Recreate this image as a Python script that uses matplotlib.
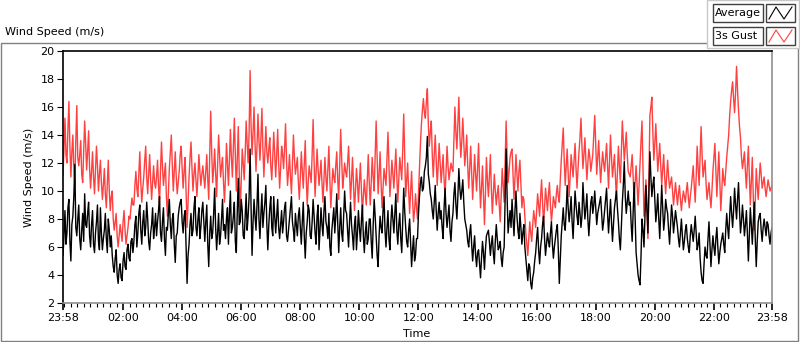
import numpy as np
import matplotlib
matplotlib.use("Agg")
import matplotlib.pyplot as plt
from matplotlib.lines import Line2D
from matplotlib.patches import Rectangle

# ================= Data ================= #
# one sample every 2 minutes, starting 23:58 (each row = 48 minutes)
sample_step_min = 2

average = [
    5.4, 6.8, 8.6, 6.2, 7.0, 8.8, 9.4, 6.4, 5.0, 7.6, 8.2, 9.6, 11.9, 7.4, 6.8, 8.0, 9.0, 6.6, 5.8, 7.2, 8.4, 6.4, 9.8, 7.6,
    7.4, 8.4, 9.2, 6.8, 6.0, 7.6, 8.6, 6.2, 5.6, 7.0, 7.8, 9.0, 6.4, 5.8, 8.8, 7.0, 5.8, 6.6, 7.2, 8.4, 6.6, 5.6, 8.0, 7.2,
    6.0, 6.8, 5.4, 4.6, 4.2, 5.2, 5.8, 4.0, 3.4, 4.4, 4.8, 3.8, 3.6, 5.0, 5.6, 4.6, 4.4, 5.8, 6.2, 5.2, 5.0, 6.4, 6.6, 5.6,
    6.4, 7.6, 8.2, 6.0, 7.0, 8.4, 9.0, 7.2, 6.2, 7.8, 8.6, 6.8, 7.4, 9.2, 8.0, 6.4, 5.8, 7.0, 7.6, 8.8, 6.6, 7.4, 8.4, 6.8,
    7.8, 8.6, 9.6, 7.0, 6.4, 7.8, 8.8, 6.6, 5.4, 7.4, 7.2, 8.4, 9.4, 7.6, 6.6, 8.0, 8.4, 6.2, 4.9, 6.8, 7.0, 8.2, 8.8, 9.2,
    9.4, 7.8, 7.0, 8.2, 8.6, 6.0, 3.4, 5.4, 6.2, 7.6, 8.4, 6.8, 7.2, 8.8, 9.6, 7.4, 6.8, 8.0, 8.8, 6.6, 7.4, 8.6, 9.2, 7.8,
    6.4, 7.8, 9.0, 6.2, 4.6, 7.0, 8.2, 6.6, 7.0, 8.4, 10.2, 7.4, 5.8, 7.0, 8.4, 6.2, 6.8, 8.0, 9.4, 7.2, 7.6, 6.6, 8.0, 8.8,
    6.2, 8.4, 10.0, 7.0, 7.4, 8.2, 9.2, 6.4, 5.6, 8.6, 10.9, 7.6, 7.8, 9.4, 8.6, 6.8, 6.6, 8.2, 9.8, 7.2, 8.2, 9.6, 13.0, 8.8,
    5.4, 7.8, 9.4, 8.2, 7.2, 9.0, 11.2, 8.0, 6.6, 8.4, 9.8, 7.4, 8.4, 9.2, 10.4, 7.6, 5.8, 7.6, 8.8, 9.6, 7.4, 6.8, 9.6, 8.2,
    7.0, 8.2, 9.4, 7.4, 6.6, 7.6, 8.6, 7.0, 7.8, 8.8, 9.2, 6.8, 6.4, 7.2, 8.0, 8.8, 9.6, 7.8, 7.2, 6.4, 8.4, 7.6, 6.8, 8.2,
    8.8, 7.4, 6.2, 7.8, 9.2, 6.8, 5.2, 7.0, 7.8, 9.0, 8.6, 6.8, 6.6, 7.8, 9.4, 8.2, 7.0, 6.2, 8.2, 9.0, 5.8, 7.2, 8.8, 7.6,
    6.8, 8.6, 9.6, 7.8, 7.4, 6.6, 8.4, 6.0, 5.4, 7.2, 8.0, 8.8, 7.0, 8.2, 9.8, 7.6, 5.6, 7.4, 8.8, 7.0, 6.4, 8.2, 10.0, 8.6,
    8.4, 7.2, 6.0, 7.8, 9.2, 7.6, 6.8, 5.8, 7.6, 8.2, 5.8, 7.0, 8.6, 7.4, 6.4, 7.8, 9.0, 6.8, 5.6, 7.0, 7.8, 6.2, 6.6, 8.0,
    8.0, 6.4, 5.2, 7.6, 9.4, 8.2, 6.8, 5.4, 4.6, 6.8, 8.2, 7.4, 7.0, 8.6, 9.6, 7.2, 6.0, 7.4, 8.6, 6.6, 5.8, 7.8, 9.0, 8.0,
    7.0, 8.4, 9.8, 7.2, 6.2, 7.6, 8.4, 6.6, 5.6, 8.0, 10.2, 8.6, 7.4, 6.4, 6.0, 7.2, 8.0, 6.2, 4.6, 5.8, 6.8, 5.0, 5.4, 6.6,
    6.6, 8.4, 9.6, 10.6, 11.0, 10.0, 10.2, 11.4, 11.8, 12.4, 13.9, 11.2, 10.6, 9.8, 9.4, 8.6, 8.0, 9.2, 10.4, 8.6, 7.2, 8.4, 9.2, 8.0,
    8.6, 7.4, 6.6, 8.8, 10.2, 8.4, 7.4, 8.2, 9.0, 7.2, 6.4, 7.8, 8.4, 9.8, 10.6, 9.0, 8.0, 9.6, 11.6, 10.2, 9.4, 10.0, 10.8, 9.2,
    8.0, 7.6, 7.2, 6.4, 6.0, 7.0, 7.6, 6.2, 5.0, 6.0, 6.8, 5.4, 4.6, 5.6, 5.8, 4.8, 3.8, 5.2, 6.4, 5.6, 4.4, 5.8, 6.8, 7.0,
    7.2, 6.4, 5.4, 6.2, 6.8, 5.6, 4.8, 6.4, 7.6, 6.6, 5.8, 6.0, 6.4, 5.2, 4.6, 5.6, 6.0, 9.4, 13.0, 9.6, 7.0, 7.8, 8.6, 7.4,
    9.4, 8.0, 6.8, 8.6, 10.0, 8.2, 7.2, 6.6, 8.4, 7.4, 6.2, 7.0, 7.6, 6.0, 5.2, 4.4, 3.6, 4.8, 4.6, 3.4, 3.0, 3.8, 4.2, 5.0,
    5.6, 6.6, 7.4, 5.8, 4.8, 6.0, 6.6, 7.6, 8.2, 6.6, 5.4, 6.2, 7.0, 6.4, 6.0, 7.0, 7.8, 6.2, 5.2, 6.0, 6.6, 7.2, 7.6, 5.8,
    3.4, 5.2, 6.8, 7.8, 8.8, 7.6, 7.2, 8.6, 10.4, 8.8, 7.8, 8.6, 9.6, 7.8, 6.6, 8.4, 10.0, 9.0, 8.2, 7.6, 9.2, 8.4, 7.4, 8.2,
    10.6, 9.2, 8.0, 8.8, 9.8, 8.0, 6.8, 8.0, 9.2, 9.6, 8.4, 9.0, 10.0, 8.8, 7.6, 8.4, 8.8, 9.2, 9.6, 8.4, 7.2, 7.8, 8.6, 9.4,
    10.2, 8.4, 7.0, 8.2, 9.4, 7.8, 6.4, 7.6, 8.8, 9.4, 10.0, 8.8, 7.8, 6.6, 5.8, 7.4, 9.2, 10.4, 12.1, 9.6, 8.4, 9.2, 10.0, 9.0,
    9.2, 7.6, 6.4, 8.6, 10.6, 8.0, 5.6, 4.8, 4.0, 3.6, 3.3, 5.4, 8.0, 7.2, 6.0, 8.2, 10.4, 8.6, 7.0, 9.8, 12.8, 11.0, 9.6, 10.4,
    11.0, 9.4, 7.8, 8.6, 9.8, 8.0, 6.6, 8.4, 10.4, 8.8, 7.2, 8.0, 9.4, 8.8, 8.4, 7.2, 6.2, 7.6, 9.0, 8.2, 7.0, 7.8, 8.6, 8.0,
    7.4, 6.6, 6.0, 7.0, 8.0, 6.8, 5.8, 6.4, 7.2, 7.6, 6.6, 6.0, 5.6, 6.8, 7.6, 7.0, 6.4, 7.2, 8.2, 7.0, 5.8, 6.2, 7.0, 5.2,
    4.2, 3.6, 3.4, 4.8, 6.0, 5.4, 5.2, 6.6, 7.8, 6.2, 4.6, 5.8, 6.8, 6.0, 5.4, 6.6, 7.4, 6.0, 4.8, 5.6, 6.2, 6.6, 7.0, 6.2,
    5.6, 7.2, 8.4, 7.4, 6.6, 8.2, 9.6, 8.4, 7.4, 8.6, 10.2, 9.0, 8.0, 9.4, 10.6, 8.6, 7.0, 7.8, 9.0, 8.0, 6.8, 7.6, 8.6, 7.0,
    5.0, 6.8, 8.8, 7.6, 6.2, 7.8, 9.2, 6.6, 4.6, 6.4, 7.8, 8.2, 8.4, 7.2, 6.4, 7.4, 8.0, 7.4, 6.8, 7.8, 7.6, 6.8, 6.2, 7.0,
    7.4,
]

gust = [
    11.1, 13.0, 15.2, 12.6, 12.0, 14.4, 16.4, 13.2, 11.0, 12.8, 14.0, 11.6, 10.4, 13.6, 16.1, 12.4, 11.8, 12.6, 13.6, 11.2, 10.6, 12.8, 15.0, 13.4,
    11.5, 12.8, 14.3, 11.6, 10.2, 11.4, 12.8, 11.0, 9.8, 11.6, 13.2, 11.8, 10.0, 11.2, 12.2, 10.6, 9.4, 10.4, 11.6, 9.8, 8.8, 10.6, 12.2, 10.0,
    8.6, 9.6, 10.0, 8.0, 7.2, 7.8, 8.4, 6.8, 6.0, 6.8, 7.6, 7.0, 6.4, 7.8, 8.6, 7.2, 6.2, 6.8, 7.4, 8.2, 8.0, 8.8, 9.5, 9.0,
    9.0, 10.4, 11.4, 10.2, 9.6, 11.2, 12.8, 10.6, 9.2, 10.2, 11.0, 12.2, 13.2, 11.0, 9.8, 11.2, 12.6, 10.8, 9.4, 10.6, 11.8, 10.6, 10.2, 11.0,
    12.2, 10.4, 9.0, 11.4, 13.5, 11.8, 10.4, 11.2, 12.0, 9.6, 8.2, 9.8, 11.6, 12.8, 14.0, 11.8, 10.0, 11.4, 12.8, 11.0, 9.8, 10.6, 11.4, 12.6,
    13.2, 11.6, 10.2, 11.4, 12.4, 9.8, 7.4, 9.2, 11.0, 12.4, 13.5, 11.6, 10.0, 11.2, 12.0, 10.8, 9.6, 11.0, 12.6, 11.4, 10.4, 11.2, 11.8, 11.0,
    10.2, 11.4, 12.6, 10.8, 9.4, 12.4, 15.7, 12.8, 10.6, 11.6, 13.0, 11.2, 9.6, 11.8, 14.0, 12.6, 11.0, 11.8, 12.4, 10.6, 9.2, 11.0, 13.4, 12.0,
    10.4, 12.2, 14.4, 12.4, 11.0, 13.0, 15.2, 12.6, 10.0, 12.2, 14.6, 11.2, 8.4, 10.6, 13.0, 12.0, 10.8, 12.6, 15.0, 13.4, 12.0, 14.2, 18.6, 14.6,
    12.6, 14.2, 16.0, 13.4, 11.4, 13.2, 15.5, 13.6, 12.2, 13.8, 15.9, 13.0, 11.0, 12.8, 14.6, 12.8, 12.0, 13.0, 13.8, 11.8, 10.8, 12.4, 14.2, 12.6,
    11.0, 12.6, 14.4, 12.0, 10.2, 11.6, 13.2, 12.6, 11.6, 13.0, 14.8, 12.2, 10.4, 11.4, 12.6, 11.0, 9.8, 11.8, 14.0, 12.4, 11.2, 11.8, 12.4, 10.6,
    9.4, 11.0, 12.8, 11.4, 10.2, 12.0, 13.6, 11.0, 9.0, 10.6, 11.8, 11.2, 10.6, 12.6, 15.1, 12.0, 9.6, 11.4, 13.0, 11.6, 10.4, 11.2, 12.2, 10.6,
    9.2, 10.8, 12.4, 11.0, 10.0, 11.6, 13.2, 10.8, 8.8, 10.2, 11.6, 11.0, 10.6, 11.8, 12.8, 10.8, 9.4, 11.8, 14.4, 12.2, 10.2, 11.0, 12.0, 11.4,
    11.0, 12.0, 13.2, 11.2, 9.4, 10.8, 12.4, 10.4, 8.6, 10.0, 11.6, 10.6, 9.2, 10.6, 12.0, 10.2, 8.4, 9.6, 10.8, 9.8, 9.0, 10.8, 12.6, 10.6,
    9.0, 10.6, 12.4, 11.0, 10.0, 12.6, 15.0, 12.4, 9.8, 11.2, 12.8, 10.6, 8.8, 10.2, 11.6, 11.0, 10.4, 12.2, 14.2, 11.8, 9.6, 10.8, 12.2, 11.2,
    10.2, 11.6, 13.0, 11.0, 9.2, 10.8, 12.4, 11.6, 10.8, 13.0, 15.5, 12.4, 9.6, 10.8, 12.0, 10.0, 8.4, 10.0, 11.4, 9.4, 7.8, 8.6, 9.8, 8.8,
    8.0, 9.8, 11.6, 13.4, 14.8, 15.8, 16.6, 15.6, 15.2, 16.4, 17.3, 14.8, 13.2, 14.2, 15.0, 12.6, 11.0, 12.6, 14.0, 12.2, 10.4, 11.8, 13.4, 12.0,
    10.6, 11.6, 12.6, 10.8, 9.6, 11.4, 13.2, 11.8, 10.8, 11.4, 12.0, 11.6, 11.4, 13.6, 16.0, 14.2, 13.0, 14.8, 16.7, 14.0, 12.4, 13.6, 15.2, 13.4,
    11.8, 12.8, 14.0, 11.8, 10.2, 11.6, 13.2, 11.2, 9.4, 11.0, 12.6, 11.2, 10.0, 11.6, 13.4, 10.8, 8.8, 10.2, 11.8, 9.6, 7.6, 9.8, 12.4, 10.8,
    9.6, 11.0, 12.6, 10.2, 8.4, 9.8, 11.2, 10.0, 9.0, 9.8, 10.4, 9.0, 7.8, 9.6, 11.6, 10.4, 9.2, 12.0, 15.0, 12.4, 10.6, 11.4, 12.4, 12.8,
    13.0, 11.2, 9.4, 11.0, 12.6, 11.2, 10.0, 11.4, 12.2, 10.4, 8.8, 9.6, 9.4, 8.2, 7.0, 6.2, 5.4, 6.6, 7.8, 7.0, 6.4, 7.6, 8.6, 8.0,
    7.4, 8.6, 9.8, 9.0, 8.2, 9.6, 10.8, 9.2, 7.6, 8.8, 10.2, 9.4, 8.6, 9.8, 10.6, 9.0, 7.8, 8.6, 9.6, 9.2, 8.8, 9.8, 10.4, 9.6,
    9.2, 10.8, 12.2, 13.4, 14.5, 12.2, 10.4, 11.8, 13.0, 11.2, 9.6, 11.0, 12.6, 11.8, 11.0, 12.2, 13.4, 11.6, 10.2, 11.6, 12.8, 13.8, 15.2, 13.2,
    11.6, 12.6, 13.8, 12.2, 10.8, 12.0, 13.0, 12.4, 11.4, 12.0, 12.6, 14.0, 15.4, 13.2, 11.2, 12.4, 13.6, 12.0, 10.6, 11.8, 12.8, 12.0, 11.4, 12.4,
    13.4, 11.8, 10.2, 12.0, 14.0, 12.4, 11.0, 11.8, 12.6, 11.0, 9.4, 11.2, 13.2, 11.8, 10.6, 12.8, 15.0, 13.6, 12.2, 13.2, 14.2, 12.6, 11.4, 11.2,
    11.0, 11.8, 12.6, 11.0, 9.4, 10.6, 11.8, 10.4, 9.0, 10.4, 12.0, 13.6, 15.0, 11.4, 8.2, 9.6, 10.8, 8.6, 6.6, 10.8, 15.4, 16.0, 16.7, 14.2,
    12.2, 13.4, 14.8, 13.0, 11.4, 12.4, 13.4, 11.8, 10.4, 11.6, 12.6, 11.0, 9.8, 11.0, 12.2, 11.0, 10.2, 10.6, 11.0, 10.0, 9.0, 9.8, 10.6, 9.8,
    9.0, 9.8, 10.4, 9.4, 8.6, 9.4, 10.0, 9.6, 9.2, 10.0, 10.6, 9.6, 8.8, 9.6, 10.2, 11.0, 11.8, 10.4, 9.2, 11.0, 13.2, 11.6, 10.4, 12.4,
    14.6, 12.6, 11.0, 11.6, 12.2, 10.6, 9.4, 10.0, 10.6, 9.6, 8.8, 10.0, 11.4, 12.4, 13.4, 11.4, 9.6, 11.2, 12.8, 10.6, 8.6, 10.0, 11.6, 10.8,
    10.4, 11.4, 12.4, 13.2, 14.0, 15.4, 16.4, 17.2, 17.8, 16.6, 15.6, 17.0, 18.9, 17.2, 15.8, 14.6, 13.8, 12.4, 11.6, 12.2, 12.8, 11.4, 10.2, 11.8,
    13.2, 11.0, 9.0, 10.8, 12.4, 9.6, 7.2, 9.2, 11.6, 10.4, 9.4, 10.8, 12.0, 11.2, 10.2, 10.6, 11.0, 10.2, 9.6, 10.2, 10.8, 10.4, 10.0, 10.2,
    10.4,
]

tick_minutes = [0, 122, 242, 362, 482, 602, 722, 842, 962, 1082, 1202, 1322, 1440]
tick_labels = ["23:58", "02:00", "04:00", "06:00", "08:00", "10:00", "12:00",
               "14:00", "16:00", "18:00", "20:00", "22:00", "23:58"]
y_ticks = list(range(2, 21, 2))

minutes_avg = np.arange(len(average)) * sample_step_min
minutes_gust = np.arange(len(gust)) * sample_step_min

# ================= Figure ================= #
W, H = 800, 342
fig = plt.figure(figsize=(W / 100, H / 100), dpi=100)
fig.patch.set_facecolor("white")


def px(x, y):
    # pixel coords (top-left origin) -> figure fraction
    return x / W, 1 - y / H


ax = fig.add_axes([63 / W, 1 - 303 / H, (772 - 63) / W, (303 - 51) / H])
ax.plot(minutes_gust, gust, color="#ff4040", lw=1.0)
ax.plot(minutes_avg, average, color="black", lw=1.0)

ax.set_xlim(0, 1440)
ax.set_ylim(2, 20)
ax.set_yticks(y_ticks)
ax.set_xticks(tick_minutes)
ax.set_xticklabels(tick_labels)
ax.set_xticks(np.arange(2, 1440, 40 / 3), minor=True)
ax.tick_params(axis="both", labelsize=8, color="black")
ax.tick_params(axis="x", which="major", length=5, width=1.2, pad=2)
ax.tick_params(axis="x", which="minor", length=3, width=0.8)
ax.tick_params(axis="y", length=4, width=0.8, pad=2)
ax.set_xlabel("Time", fontsize=8)
ax.set_ylabel("Wind Speed (m/s)", fontsize=8, labelpad=5)
ax.xaxis.set_label_coords((403 - 63) / (772 - 63), -0.105)
ax.xaxis.label.set_horizontalalignment("left")

for side in ["top", "left"]:
    ax.spines[side].set_color("black")
    ax.spines[side].set_linewidth(1.2)
for side in ["right", "bottom"]:
    ax.spines[side].set_color("#909090")
    ax.spines[side].set_linewidth(1.2)

# ---- panel frame and title ----
fig.text(*px(5, 32), "Wind Speed (m/s)", fontsize=8, va="center", ha="left")
x0, y0 = px(0.5, 340.5)
x1, y1 = px(797.5, 42.5)
fig.add_artist(Rectangle((x0, y0), x1 - x0, y1 - y0, transform=fig.transFigure,
                         fill=False, edgecolor="#808080", lw=1))

# ---- legend ----
fig.add_artist(Rectangle(px(707, 48), 92 / W, 48 / H, transform=fig.transFigure,
                         facecolor="white", edgecolor="#c8c8c8", lw=1))
for i, (name, col) in enumerate([("Average", "black"), ("3s Gust", "#ff4040")]):
    top = 4 + i * 23
    fig.add_artist(Rectangle(px(713, top + 18), 50 / W, 18 / H, transform=fig.transFigure,
                             facecolor="white", edgecolor="#404040", lw=1))
    fig.add_artist(Rectangle(px(766, top + 18), 29 / W, 18 / H, transform=fig.transFigure,
                             facecolor="white", edgecolor="#404040", lw=1))
    fig.text(*px(715, top + 9), name, fontsize=8, va="center", ha="left")
    zx = [769, 776, 784, 792]
    zy = [top + 15, top + 3, top + 15, top + 3]
    pts = [px(a, b) for a, b in zip(zx, zy)]
    fig.add_artist(Line2D([p[0] for p in pts], [p[1] for p in pts],
                          transform=fig.transFigure, color=col, lw=0.8))

fig.savefig("out.png", dpi=100)
